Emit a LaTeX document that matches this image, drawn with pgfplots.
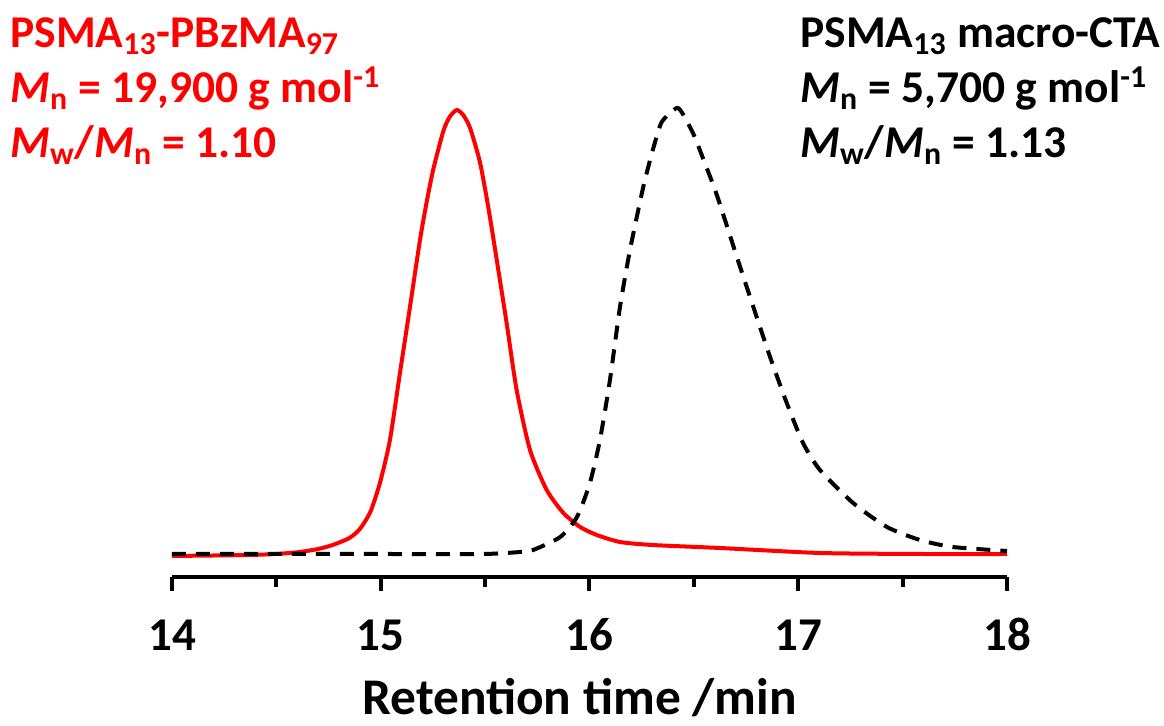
\documentclass[border=0pt]{standalone}
\usepackage{fontspec}
\setmainfont{Carlito}
\usepackage{pgfplots}
\pgfplotsset{compat=1.18}

\pgfplotstableread{
x y
14.000 21
14.200 21.5
14.374 22
14.500 23
14.613 25
14.700 28
14.770 32
14.850 39
14.900 48
14.950 65
14.996 94
15.044 137
15.092 204
15.140 270
15.188 337
15.220 375
15.252 408
15.300 446
15.330 460
15.364 467
15.395 462
15.428 449
15.475 415
15.515 370
15.555 318
15.603 254
15.651 187
15.715 127
15.795 87
15.875 64
15.955 50
16.035 42
16.146 35
16.300 32
16.625 29
17.104 24
17.583 23
18.000 23
}\copolymer

\pgfplotstableread{
x y
14.000 23
14.500 23
15.000 23
15.490 23
15.667 25
15.730 27
15.860 40
15.940 60
16.002 94
16.050 137
16.098 197
16.146 270
16.194 327
16.250 383
16.274 404
16.306 429
16.346 455
16.418 469
16.450 462
16.500 442
16.545 418
16.610 382
16.706 320
16.785 270
16.865 220
16.945 174
17.023 134
17.104 107
17.263 74
17.425 50
17.583 37
17.740 30
18.000 26
}\macrocta

\begin{document}
\begin{tikzpicture}
\begin{axis}[
  scale only axis,
  width=417.5pt,
  height=240pt,
  xmin=14, xmax=18,
  ymin=0, ymax=480,
  axis x line=bottom,
  axis y line=none,
  axis line style={line width=2pt, -},
  xtick={14,15,16,17,18},
  minor xtick={14.5,15.5,16.5,17.5},
  tick align=outside,
  major tick length=7pt,
  minor tick length=5pt,
  every tick/.style={black, line width=2pt},
  /pgf/number format/assume math mode=true,
  xticklabel style={font=\fontsize{23.5}{28}\selectfont\bfseries, anchor=base, yshift=-30pt},
  xlabel={Retention time /min},
  xlabel style={font=\fontsize{25.7}{30}\selectfont\bfseries, anchor=base,
    at={(axis description cs:0.5,0)}, yshift=-69pt, xshift=-5pt},
  clip=false,
]
\addplot[red, line width=2pt, smooth, tension=0.4] table {\copolymer};
\addplot[black, line width=2pt, smooth, tension=0.4, dash pattern=on 7pt off 5pt] table {\macrocta};
\end{axis}

\begin{scope}[every node/.style={inner sep=0pt, anchor=base west,
    font=\fontsize{22.75}{27}\selectfont\bfseries}]
  \node[text=red] at (-81pt,264.5pt) {PSMA\textsubscript{13}-PBzMA\textsubscript{97}};
  \node[text=red] at (-81pt,237pt) {\textit{M}\textsubscript{n} = 19,900 g mol\textsuperscript{-1}};
  \node[text=red] at (-81pt,209.5pt) {\textit{M}\textsubscript{w}/\textit{M}\textsubscript{n} = 1.10};
  \node at (314pt,264.5pt) {PSMA\textsubscript{13} macro-CTA};
  \node at (314pt,237pt) {\textit{M}\textsubscript{n} = 5,700 g mol\textsuperscript{-1}};
  \node at (314pt,209.5pt) {\textit{M}\textsubscript{w}/\textit{M}\textsubscript{n} = 1.13};
\end{scope}

\pgfresetboundingbox
\path[use as bounding box] (-86pt,-74.5pt) rectangle (496pt,288.5pt);
\end{tikzpicture}
\end{document}
